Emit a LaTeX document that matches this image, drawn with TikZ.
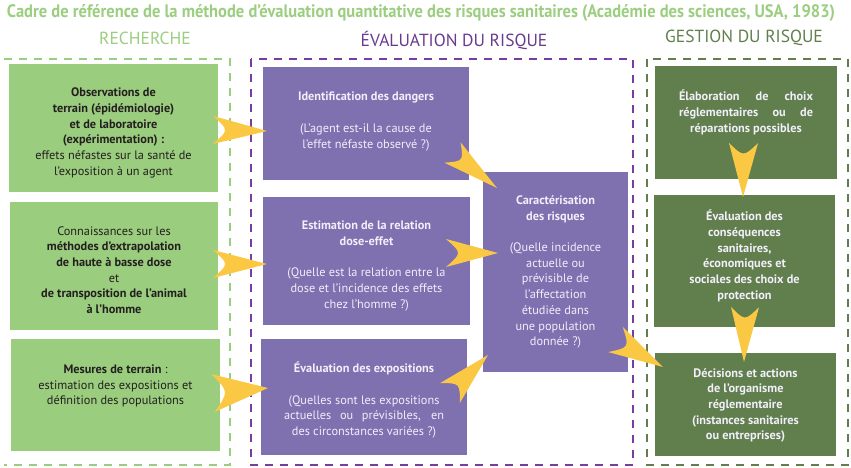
\documentclass[tikz,border=0pt]{standalone}
\usepackage{fontspec}
\setmainfont{PT Sans}
\usetikzlibrary{calc}
\definecolor{titlegreen}{RGB}{155,206,128}
\definecolor{lgreen}{RGB}{155,205,126}
\definecolor{purplebox}{RGB}{127,112,176}
\definecolor{purplehead}{RGB}{106,58,142}
\definecolor{purpledash}{RGB}{122,60,160}
\definecolor{dgreen}{RGB}{96,127,77}
\definecolor{yel}{RGB}{251,200,68}
\definecolor{darktext}{RGB}{35,31,32}
\definecolor{lighttext}{RGB}{242,238,250}
\newcommand\yarr[4]{%
  \path ($(#1)!#3pt!90:(#2)$) coordinate (ya)
        ($(#1)!#3pt!-90:(#2)$) coordinate (yb)
        ($(#1)!#4pt!(#2)$) coordinate (yc);
  \fill[yel] (ya) -- (#2) -- (yb) .. controls (yc) .. (ya) -- cycle;}
\tikzset{
  boxbase/.style={rectangle, inner sep=0pt},
  lbox/.style={boxbase, fill=lgreen},
  pbox/.style={boxbase, fill=purplebox},
  gbox/.style={boxbase, fill=dgreen},
  bodyfont/.style={font=\fontsize{12.3}{15.7}\selectfont, align=center},
  boldfont/.style={font=\bfseries\fontsize{12.3}{15.7}\selectfont},
  dtxt/.style={bodyfont, text=darktext},
  ltxt/.style={bodyfont, text=lighttext},
  head/.style={font=\fontsize{17.5}{17.5}\selectfont},
  dashgrp/.style={line width=1.8pt, dash pattern=on 8pt off 7pt},
}
\begin{document}
\begin{tikzpicture}[x=1pt,y=-1pt]
\useasboundingbox (0,0) rectangle (851,467);
% title and headers
\node[text=titlegreen, font=\bfseries\fontsize{15}{15}\selectfont] (title) at (421,12.5)
  {\resizebox{828pt}{13pt}{Cadre de référence de la méthode d’évaluation quantitative des risques sanitaires (Académie des sciences, USA, 1983)}};
\node[head, text=titlegreen] (h1) at (145,38) {RECHERCHE};
\node[head, text=purplehead] (h2) at (454,40) {ÉVALUATION DU RISQUE};
\node[head, text=dgreen] (h3) at (744,38) {GESTION DU RISQUE};
% dashed groups
\draw[dashgrp, draw=lgreen] (4,59) -- (230,59) -- (230,465) -- (4,465);
\draw[dashgrp, draw=purpledash] (251,59) rectangle (633,465);
\draw[dashgrp, draw=dgreen] (647,59) rectangle (848,465);
% research boxes
\node[lbox, minimum width=209pt, minimum height=128pt] (r1) at (113.5,128) {};
\node[dtxt] at ([yshift=-5pt]r1.center) {\textbf{Observations de}\\ \textbf{terrain (épidémiologie)}\\ \textbf{et de laboratoire}\\ \textbf{(expérimentation) :}\\ effets néfastes sur la santé de\\ l’exposition à un agent};
\node[lbox, minimum width=208pt, minimum height=128pt] (r2) at (114,266) {};
\node[dtxt] at ([yshift=-4pt]r2.center) {Connaissances sur les\\ \textbf{méthodes d’extrapolation}\\ \textbf{de haute à basse dose}\\ et\\ \textbf{de transposition de l’animal}\\ \textbf{à l’homme}};
\node[lbox, minimum width=209pt, minimum height=112pt] (r3) at (115.5,395) {};
\node[dtxt] at ([yshift=9pt]r3.center) {\textbf{Mesures de terrain} :\\ estimation des expositions et\\ définition des populations};
% evaluation boxes
\node[pbox, minimum width=206pt, minimum height=113pt] (e1) at (366,123.5) {};
\node[ltxt] at ([yshift=2pt]e1.center) {\textbf{Identification des dangers}\\[15.7pt] (L’agent est-il la cause de\\ l’effet néfaste observé ?)};
\node[pbox, minimum width=207pt, minimum height=128pt] (e2) at (366.5,261) {};
\node[ltxt] at ([yshift=-5pt]e2.center) {\textbf{Estimation de la relation}\\ \textbf{dose-effet}\\[15.7pt] (Quelle est la relation entre la\\ dose et l’incidence des effets\\ chez l’homme ?)};
\node[pbox, minimum width=206pt, minimum height=116pt] (e3) at (364,397) {};
\node[ltxt] at ([yshift=-3pt]e3.center) {\textbf{Évaluation des expositions}\\[15.7pt] (Quelles sont les expositions\\ \makebox[160pt][s]{actuelles ou prévisibles, en}\\ des circonstances variées ?)};
\node[pbox, minimum width=145pt, minimum height=200pt] (e4) at (555.5,272) {};
\node[ltxt] at (e4.center) {\textbf{Caractérisation}\\ \textbf{des risques}\\[15.7pt] (Quelle incidence\\ actuelle ou\\ prévisible de\\ l’affectation\\ étudiée dans\\ une population\\ donnée ?)};
% management boxes
\node[gbox, minimum width=182pt, minimum height=113pt] (g1) at (746,122.5) {};
\node[ltxt, boldfont] at ([yshift=10pt]g1.center) {\makebox[134pt][s]{Élaboration de choix}\\ \makebox[134pt][s]{réglementaires ou de}\\ réparations possibles};
\node[gbox, minimum width=181pt, minimum height=132pt] (g2) at (744.5,261) {};
\node[ltxt, boldfont] at ([yshift=5pt]g2.center) {Évaluation des\\ conséquences\\ sanitaires,\\ économiques et\\ sociales des choix de\\ protection};
\node[gbox, minimum width=181pt, minimum height=103pt] (g3) at (745.5,404.5) {};
\node[ltxt, boldfont] at ([yshift=-1pt]g3.center) {Décisions et actions\\ de l’organisme\\ réglementaire\\ (instances sanitaires\\ ou entreprises)};
% arrows
\coordinate (a1s) at (213,130);   \coordinate (a1t) at (267,131);
\coordinate (a2s) at (213,264);   \coordinate (a2t) at (267,264);
\coordinate (a3s) at (213,393);   \coordinate (a3t) at (268,388);
\coordinate (a4s) at (452.5,152.5); \coordinate (a4t) at (497,188);
\coordinate (a5s) at (446,253);   \coordinate (a5t) at (498,253);
\coordinate (a6s) at (450,393);   \coordinate (a6t) at (488,355);
\coordinate (a7s) at (615.5,339.5); \coordinate (a7t) at (663,367);
\coordinate (a8s) at (743.5,143); \coordinate (a8t) at (743,197);
\coordinate (a9s) at (745,307);   \coordinate (a9t) at (744,362);
\yarr{a1s}{a1t}{14}{16}
\yarr{a2s}{a2t}{14}{16}
\yarr{a3s}{a3t}{19}{16}
\yarr{a4s}{a4t}{13}{14}
\yarr{a5s}{a5t}{14}{16}
\yarr{a6s}{a6t}{14}{14}
\yarr{a7s}{a7t}{14.5}{16}
\yarr{a8s}{a8t}{14.5}{14}
\yarr{a9s}{a9t}{14}{14}
\end{tikzpicture}
\end{document}
